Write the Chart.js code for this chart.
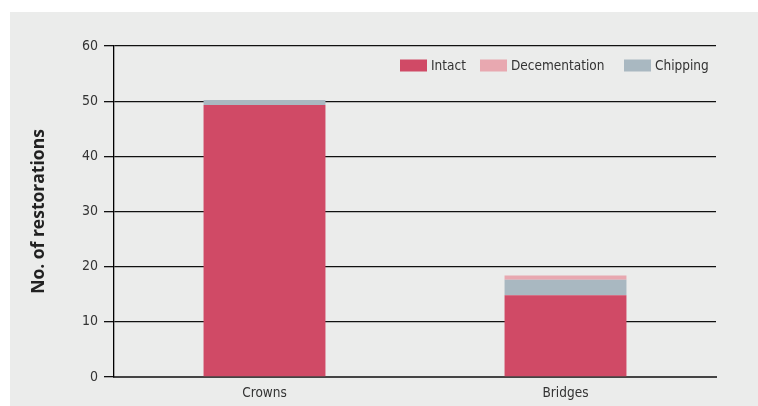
<!DOCTYPE html>
<html>
<head>
<meta charset="utf-8">
<script src="https://cdn.jsdelivr.net/npm/chart.js@4/dist/chart.umd.min.js"></script>
<style>
html,body{margin:0;padding:0;background:#ffffff;}
#wrap{position:relative;width:758px;height:406px;}
</style>
</head>
<body>
<div id="wrap"><canvas id="c" width="758" height="406"></canvas></div>
<script>
const categories = ["Crowns", "Bridges"];
const intact = [49.3, 14.8];
const chipping = [0.9, 2.85];
const decementation = [0, 0.75];
const legendOrder = ["Intact", "Decementation", "Chipping"];
const yTicks = [0, 10, 20, 30, 40, 50, 60];

const narrow = "'Liberation Sans Narrow', 'DejaVu Sans Condensed', 'Liberation Sans', sans-serif";

const panelBg = {
  id: 'panelBg',
  beforeDraw(chart) {
    const ctx = chart.ctx;
    ctx.save();
    ctx.fillStyle = '#ebeceb';
    ctx.fillRect(10, 12, 748, 394);
    ctx.restore();
  }
};

// Legend drawn in the top-right of the plot area (horizontal row)
const inlineLegend = {
  id: 'inlineLegend',
  afterDraw(chart) {
    const ctx = chart.ctx;
    const area = chart.chartArea;
    const boxOffsets = [286, 366, 510]; // box x offsets from plot-area left
    const boxW = 27, boxH = 12;
    const cy = area.top + 19.5;
    ctx.save();
    ctx.font = "13.5px " + narrow;
    ctx.textBaseline = 'middle';
    ctx.textAlign = 'left';
    legendOrder.forEach((name, i) => {
      const ds = chart.data.datasets.find(d => d.label === name);
      const x = area.left + boxOffsets[i];
      ctx.fillStyle = ds.backgroundColor;
      ctx.fillRect(x, cy - boxH / 2, boxW, boxH);
      ctx.fillStyle = '#333';
      ctx.fillText(name, x + boxW + 4, cy + 0.5);
    });
    ctx.restore();
  }
};

new Chart(document.getElementById('c'), {
  type: 'bar',
  data: {
    labels: categories,
    datasets: [
      { label: 'Intact', data: intact, backgroundColor: '#d04a66' },
      { label: 'Chipping', data: chipping, backgroundColor: '#a9b8c1' },
      { label: 'Decementation', data: decementation, backgroundColor: '#e8a8b0' }
    ]
  },
  options: {
    responsive: false,
    animation: false,
    devicePixelRatio: 1,
    layout: { padding: { left: 0, right: 42, top: 46, bottom: 0 } },
    datasets: { bar: { categoryPercentage: 1, barPercentage: 0.405, borderWidth: 0 } },
    plugins: {
      tooltip: { enabled: false },
      legend: { display: false }
    },
    scales: {
      x: {
        stacked: true,
        grid: { display: false, drawTicks: false },
        border: { display: true, color: '#444', width: 2 },
        ticks: { color: '#333', font: { family: narrow, size: 13.5 }, padding: 8 },
        afterFit(s) { s.height = 29; }
      },
      y: {
        stacked: true,
        min: 0,
        max: 60,
        afterBuildTicks(s) { s.ticks = yTicks.map(v => ({ value: v })); },
        grid: { color: '#111', lineWidth: 1.3, tickLength: 10, drawTicks: true },
        border: { display: true, color: '#000', width: 1.3 },
        ticks: { color: '#333', font: { family: narrow, size: 14 }, padding: 6 },
        title: {
          display: true,
          text: 'No. of restorations',
          color: '#222',
          font: { family: "'Open Sans', 'Liberation Sans', sans-serif", size: 17.5, weight: 'bold' },
          padding: { top: 29, bottom: 0 }
        },
        afterFit(s) { s.width = 114; }
      }
    }
  },
  plugins: [panelBg, inlineLegend]
});
</script>
</body>
</html>
